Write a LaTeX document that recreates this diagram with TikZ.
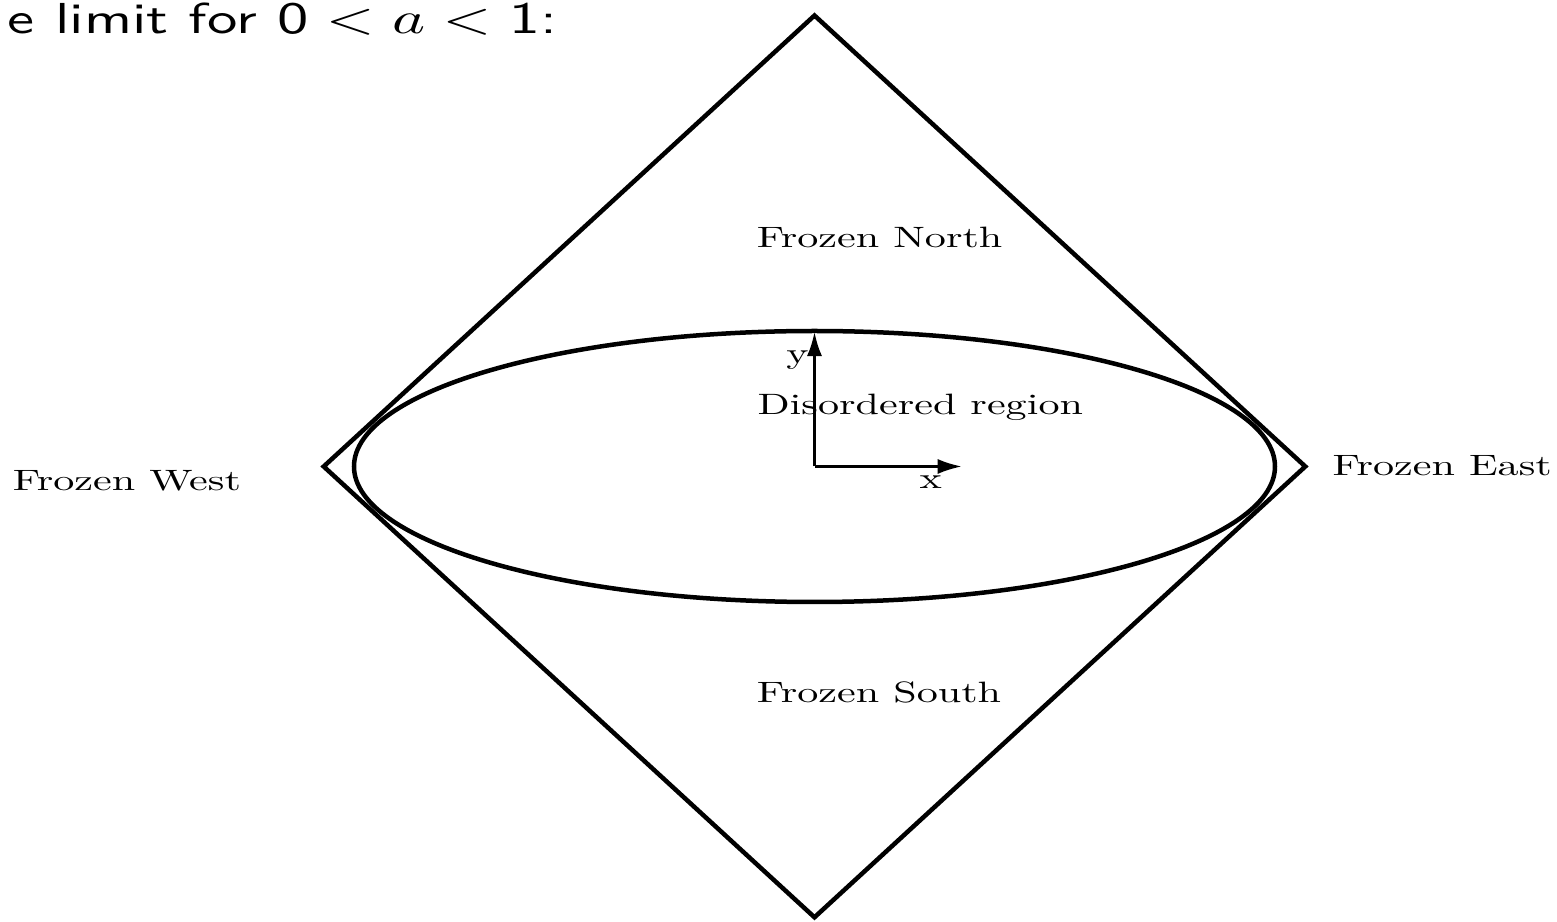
\documentclass[tikz,border=0pt]{standalone}
\usetikzlibrary{arrows.meta}
\tikzset{>={Latex[length=5.9pt,width=3.7pt]},
  lbl/.style={anchor=base west,inner sep=0pt,font=\fontsize{10}{12}\selectfont,xscale=1.03,yscale=.72,transform shape},
  frame/.style={line width=1.1pt},axis/.style={line width=.6pt,->}}
\begin{document}
\begin{tikzpicture}[x=.859cm,y=.859cm]
\useasboundingbox (-8.145,-4.555) rectangle (7.425,4.665);
\node[anchor=base west,inner sep=0pt,xscale=1.4,transform shape,font=\fontsize{10.6}{13}\selectfont\sffamily] (title) at (-8.078,4.332) {e limit for $\mathsf{0}<a<\mathsf{1}$:};
\coordinate (N) at (0,4.51);\coordinate (S) at (0,-4.508);\coordinate (W) at (-4.908,0);\coordinate (E) at (4.908,0);
\draw[frame] (N)--(E)--(S)--(W)--cycle;
\draw[frame] (0,0) ellipse [x radius=4.605,y radius=1.355];
\coordinate (O) at (0,0);\coordinate (xtip) at (1.472,0);\coordinate (ytip) at (0,1.345);
\draw[axis] (O)--(xtip);\draw[axis] (O)--(ytip);
\node[lbl,anchor=base] (xl) at (1.163,-.218) {x};
\node[lbl,anchor=base] (yl) at (-.171,1.032) {y};
\node[lbl] (north) at (-.585,2.192) {Frozen North};
\node[lbl] (dis) at (-.578,.522) {Disordered region};
\node[lbl] (south) at (-.585,-2.358) {Frozen South};
\node[lbl] (west) at (-8.025,-.242) {Frozen West};
\node[lbl] (east) at (5.172,-.092) {Frozen East};
\end{tikzpicture}
\end{document}
